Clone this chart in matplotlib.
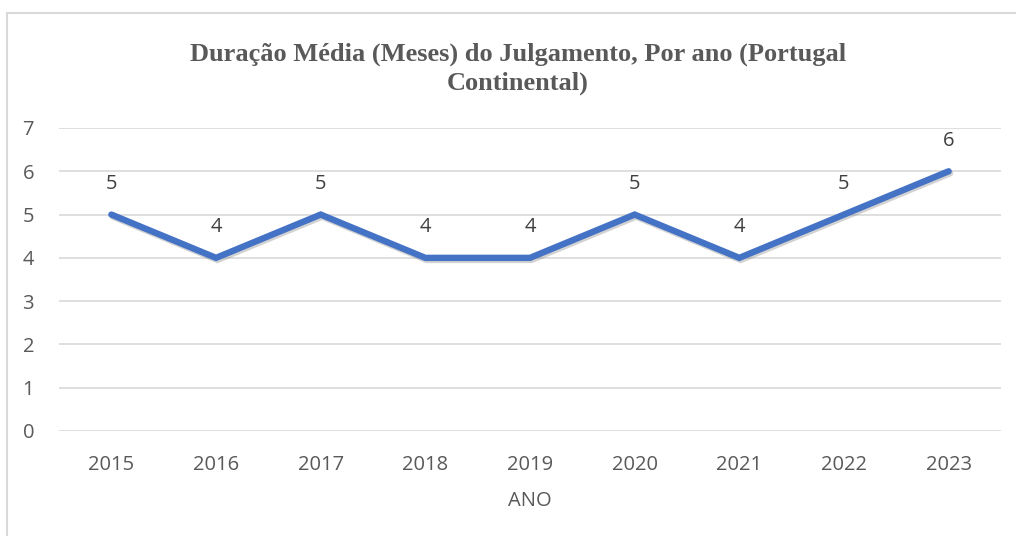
import matplotlib.pyplot as plt
import matplotlib.patheffects as pe
from matplotlib.lines import Line2D

anos = ['2015', '2016', '2017', '2018', '2019', '2020', '2021', '2022', '2023']
duracao = [5, 4, 5, 4, 4, 5, 4, 5, 6]
titulo = 'Duração Média (Meses) do Julgamento, Por ano (Portugal\nContinental)'

fig = plt.figure(figsize=(10.16, 5.36), dpi=100)
ax = fig.add_axes([0.0581, 0.1959, 0.9271, 0.5653])

# borda do gráfico (só topo e esquerda visíveis)
fig.add_artist(Line2D([7/1016, 7/1016], [0, 1 - 13/536], color='#d9d9d9', lw=1.5, transform=fig.transFigure))
fig.add_artist(Line2D([7/1016, 1], [1 - 13/536, 1 - 13/536], color='#d9d9d9', lw=1.5, transform=fig.transFigure))

x = list(range(len(anos)))
ax.plot(x, duracao, color='#4472C4', lw=4.6, solid_capstyle='round', solid_joinstyle='miter',
        path_effects=[pe.SimpleLineShadow(offset=(1, -1.5), shadow_color='gray', alpha=0.35), pe.Normal()],
        zorder=3)
for xi, v in zip(x, duracao):
    ax.annotate(str(v), (xi, v), xytext=(0, 22), textcoords='offset points',
                ha='center', va='center', fontsize=14.5, color='#404040', family='Open Sans')

ax.set_xlim(-0.5, len(anos) - 0.5)
ax.set_ylim(0, 7)
ax.set_yticks(range(0, 8))
ax.set_xticks(x)
ax.set_xticklabels(anos)
ax.grid(axis='y', color='#d9d9d9', lw=1.2)
ax.set_axisbelow(True)
for s in ax.spines.values():
    s.set_visible(False)
ax.tick_params(length=0, labelsize=14.5, labelcolor='#595959', pad=17)
ax.tick_params(axis='y', pad=18)
for lbl in ax.get_xticklabels() + ax.get_yticklabels():
    lbl.set_family('Open Sans')
ax.set_xlabel('ANO', fontsize=14.5, color='#595959', family='Open Sans', labelpad=12)

fig.text(0.510, 0.871, titulo, ha='center', va='center', fontsize=19, fontweight='bold',
         color='#595959', family='Liberation Serif', linespacing=1.3)

fig.savefig('out.png', dpi=100)
